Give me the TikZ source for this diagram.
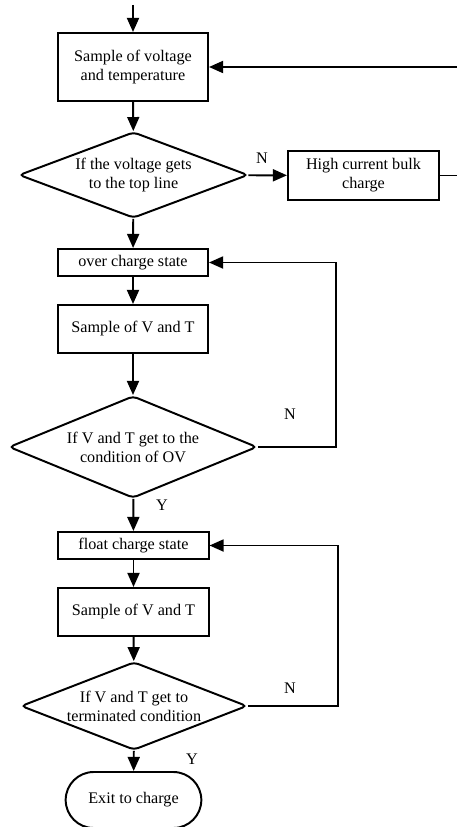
\documentclass[tikz,border=0pt]{standalone}
\usepackage{fontspec}
\setmainfont{Liberation Serif}
\usetikzlibrary{shapes.geometric,shapes.misc,arrows.meta}

\begin{document}
\begin{tikzpicture}[x=0.025cm, y=-0.025cm, line width=1.4pt,
  >={Triangle[length=10pt,width=8.5pt]},
  every node/.style={font=\fontsize{11.5}{13.5}\selectfont, align=center},
  box/.style={draw, rectangle, minimum width=3.75cm, inner sep=0pt},
  test/.style={draw, diamond, inner sep=0pt, rounded corners=3pt},
  lbl/.style={inner sep=0pt}]
\useasboundingbox (0,0) rectangle (456,827);
\coordinate (start) at (133,5);
\node [box, minimum height=1.7cm] (samp) at (133,67) {Sample of voltage\\and temperature};
\node [test, aspect=2.66, minimum width=5.725cm, minimum height=2.15cm] (chk1) at (133.5,175) {If the voltage gets\\to the top line};
\node [box, minimum width=3.775cm, minimum height=1.225cm] (bulk) at (363.5,175.5) {High current bulk\\charge};
\node [box, minimum height=0.675cm] (over) at (133,262.5) {over charge state};
\node [box, minimum height=1.2cm] (samp2) at (133,329) {Sample of V and T};
\node [test, aspect=2.43, minimum width=6.2cm, minimum height=2.55cm] (chk2) at (133,447) {If V and T get to the\\condition of OV};
\node [box, minimum height=0.675cm] (float) at (133.5,545.5) {float charge state};
\node [box, minimum height=1.2cm] (samp3) at (133.5,612) {Sample of V and T};
\node [test, aspect=2.57, minimum width=5.65cm, minimum height=2.2cm] (chk3) at (134,706) {If V and T get to\\terminated condition};
\node [draw, rounded rectangle, minimum width=3.625cm, minimum height=1.4cm] (exit) at (133.5,800) {Exit to charge};

\draw [->] (start) to (samp);
\draw [->] (samp) to (chk1);
\draw [->] (chk1) to (bulk);
\draw [->] (bulk.east) -- ++(26,0) |- (samp.east);
\draw [->] (chk1) to (over);
\draw [->] (over) to (samp2);
\draw [->] (samp2) to (chk2);
\draw [->] (chk2.east) -- ++(78,0) |- (over.east);
\draw [->] (chk2) to (float);
\draw [->] (float) to (samp3);
\draw [->] (samp3) to (chk3);
\draw [->] (chk3.east) -- ++(90,0) |- (float.east);
\draw [->] (chk3) to (exit);

\node [lbl] (n1) at (262,158) {N};
\node [lbl] (n2) at (290,414) {N};
\node [lbl] (y1) at (162,505) {Y};
\node [lbl] (n3) at (290,688) {N};
\node [lbl] (y2) at (192,759) {Y};
\end{tikzpicture}
\end{document}
